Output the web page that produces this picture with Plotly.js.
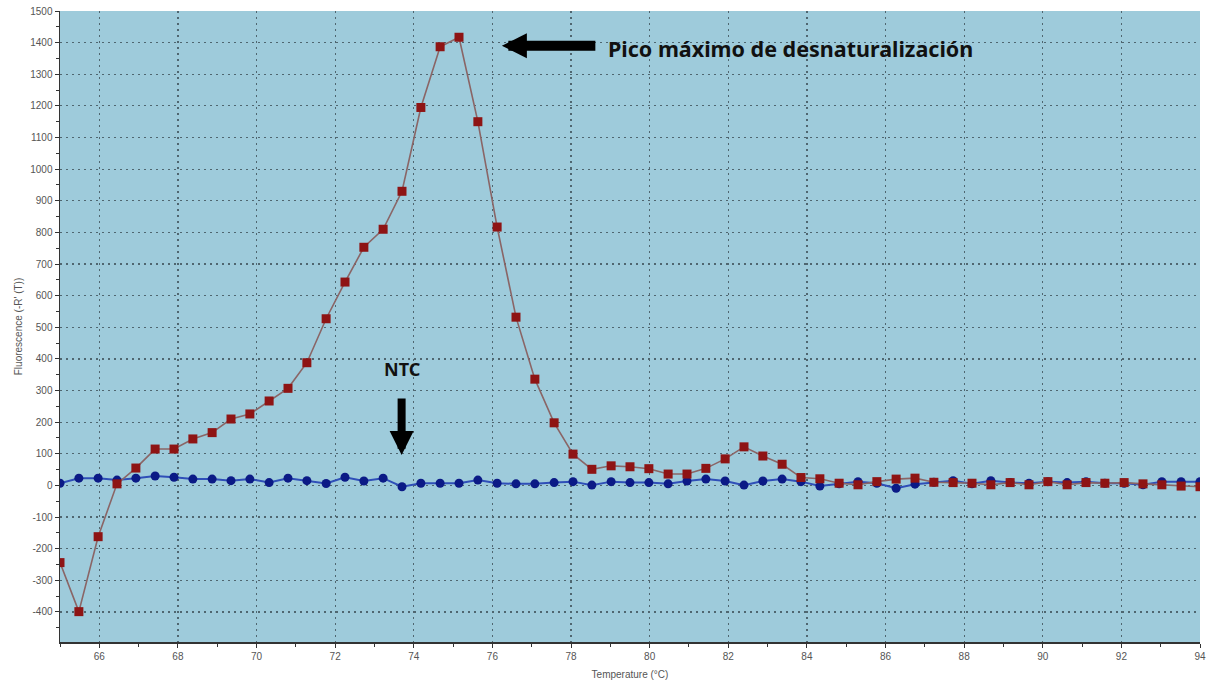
<!DOCTYPE html>
<html>
<head>
<meta charset="utf-8">
<script src="https://cdn.plot.ly/plotly-3.0.1.min.js"></script>
<style>html,body{margin:0;padding:0;background:#fff;}#chart{width:1212px;height:689px;}</style>
</head>
<body>
<div id="chart"></div>
<script>
// Temperature (°C) of each reading
const temperature = [65.00, 65.48, 65.97, 66.45, 66.93, 67.42, 67.90, 68.38, 68.87, 69.35,
  69.83, 70.32, 70.80, 71.28, 71.77, 72.25, 72.73, 73.22, 73.70, 74.18,
  74.67, 75.15, 75.63, 76.12, 76.60, 77.08, 77.57, 78.05, 78.53, 79.02,
  79.50, 79.98, 80.47, 80.95, 81.43, 81.92, 82.40, 82.88, 83.37, 83.85,
  84.33, 84.82, 85.30, 85.78, 86.27, 86.75, 87.23, 87.72, 88.20, 88.68,
  89.17, 89.65, 90.13, 90.62, 91.10, 91.58, 92.07, 92.55, 93.03, 93.52, 94.00];

// Sample melt curve (-R'(T))
const sampleValues = [-244, -399, -162, 5, 55, 115, 115, 147, 167, 210,
  226, 267, 307, 388, 527, 643, 753, 810, 930, 1195,
  1387, 1417, 1150, 817, 532, 336, 198, 99, 51, 62,
  59, 53, 36, 36, 54, 84, 122, 93, 67, 25,
  21, 7, 2, 12, 20, 23, 10, 9, 7, 2,
  9, 2, 12, 2, 9, 7, 9, 5, 2, -2, -4];

// NTC curve (-R'(T))
const ntcValues = [7, 23, 23, 17, 23, 30, 26, 20, 20, 15,
  20, 9, 23, 15, 6, 26, 14, 23, -4, 7,
  7, 7, 17, 7, 5, 5, 9, 12, 1, 12,
  9, 9, 5, 14, 20, 14, 1, 14, 20, 12,
  -2, 5, 12, 7, -9, 4, 10, 15, 5, 15,
  9, 7, 12, 9, 12, 7, 7, 2, 12, 12, 12];

const xTickVals = [66, 68, 70, 72, 74, 76, 78, 80, 82, 84, 86, 88, 90, 92, 94];
const yTickVals = [-400, -300, -200, -100, 0, 100, 200, 300, 400, 500, 600, 700,
  800, 900, 1000, 1100, 1200, 1300, 1400, 1500];

const peakLabel = "Pico máximo de desnaturalización";
const ntcLabel = "NTC";

const traces = [
  {
    x: temperature, y: ntcValues, type: 'scatter', mode: 'lines+markers',
    name: 'NTC',
    line: {color: '#2f4fb8', width: 2},
    marker: {symbol: 'circle', size: 9, color: '#0b1a86'}
  },
  {
    x: temperature, y: sampleValues, type: 'scatter', mode: 'lines+markers',
    name: 'Muestra',
    line: {color: '#8a6566', width: 1.6},
    marker: {symbol: 'square', size: 9, color: '#8e1414'}
  }
];

const tickFont = {family: 'Liberation Sans, Arial, sans-serif', size: 10, color: '#555'};
const gridDash = '2px,4px';

const layout = {
  width: 1212, height: 689,
  margin: {l: 60, r: 12, t: 11, b: 47},
  paper_bgcolor: '#ffffff',
  plot_bgcolor: '#9ecbdb',
  showlegend: false,
  xaxis: {
    range: [65, 94], tickvals: xTickVals, ticktext: xTickVals.map(String),
    showline: true, linecolor: '#333', linewidth: 1.5, mirror: false,
    ticks: 'outside', ticklen: 4, tickcolor: '#333',
    showgrid: true, gridcolor: '#4f6670', griddash: gridDash, gridwidth: 1.2,
    zeroline: false, tickfont: tickFont,
    minor: {dtick: 1, tick0: 65, ticks: 'outside', ticklen: 3, tickcolor: '#333', showgrid: false},
    title: {text: 'Temperature (°C)', font: {family: 'Liberation Sans, Arial, sans-serif', size: 10, color: '#555'}, standoff: 10}
  },
  yaxis: {
    range: [-495, 1500], tickvals: yTickVals, ticktext: yTickVals.map(String),
    showline: true, linecolor: '#333', linewidth: 1.5,
    ticks: 'outside', ticklen: 4, tickcolor: '#333',
    showgrid: true, gridcolor: '#4f6670', griddash: gridDash, gridwidth: 1.2,
    zeroline: false, tickfont: tickFont,
    minor: {dtick: 50, tick0: 0, ticks: 'outside', ticklen: 3, tickcolor: '#333', showgrid: false},
    title: {text: "Fluorescence (-R' (T))", font: {family: 'Liberation Sans, Arial, sans-serif', size: 10, color: '#555'}, standoff: 6}
  },
  annotations: [
    {x: 76.24, y: 1390, xref: 'x', yref: 'y', text: '', showarrow: true,
     ax: 95, ay: 0, arrowhead: 2, arrowsize: 0.5, arrowwidth: 10, arrowcolor: '#000'},
    {x: 78.9, y: 1380, xref: 'x', yref: 'y', text: '<b>' + peakLabel + '</b>', showarrow: false,
     xanchor: 'left', yanchor: 'middle', font: {family: 'Noto Sans, sans-serif', size: 21.5, color: '#111'}},
    {x: 73.69, y: 96, xref: 'x', yref: 'y', text: '', showarrow: true,
     ax: 0, ay: -58, arrowhead: 2, arrowsize: 0.6, arrowwidth: 8, arrowcolor: '#000'},
    {x: 73.71, y: 367, xref: 'x', yref: 'y', text: '<b>' + ntcLabel + '</b>', showarrow: false,
     xanchor: 'center', yanchor: 'middle', font: {family: 'Noto Sans, sans-serif', size: 18, color: '#111'}}
  ]
};

Plotly.newPlot('chart', traces, layout, {displayModeBar: false, staticPlot: true});
</script>
</body>
</html>
